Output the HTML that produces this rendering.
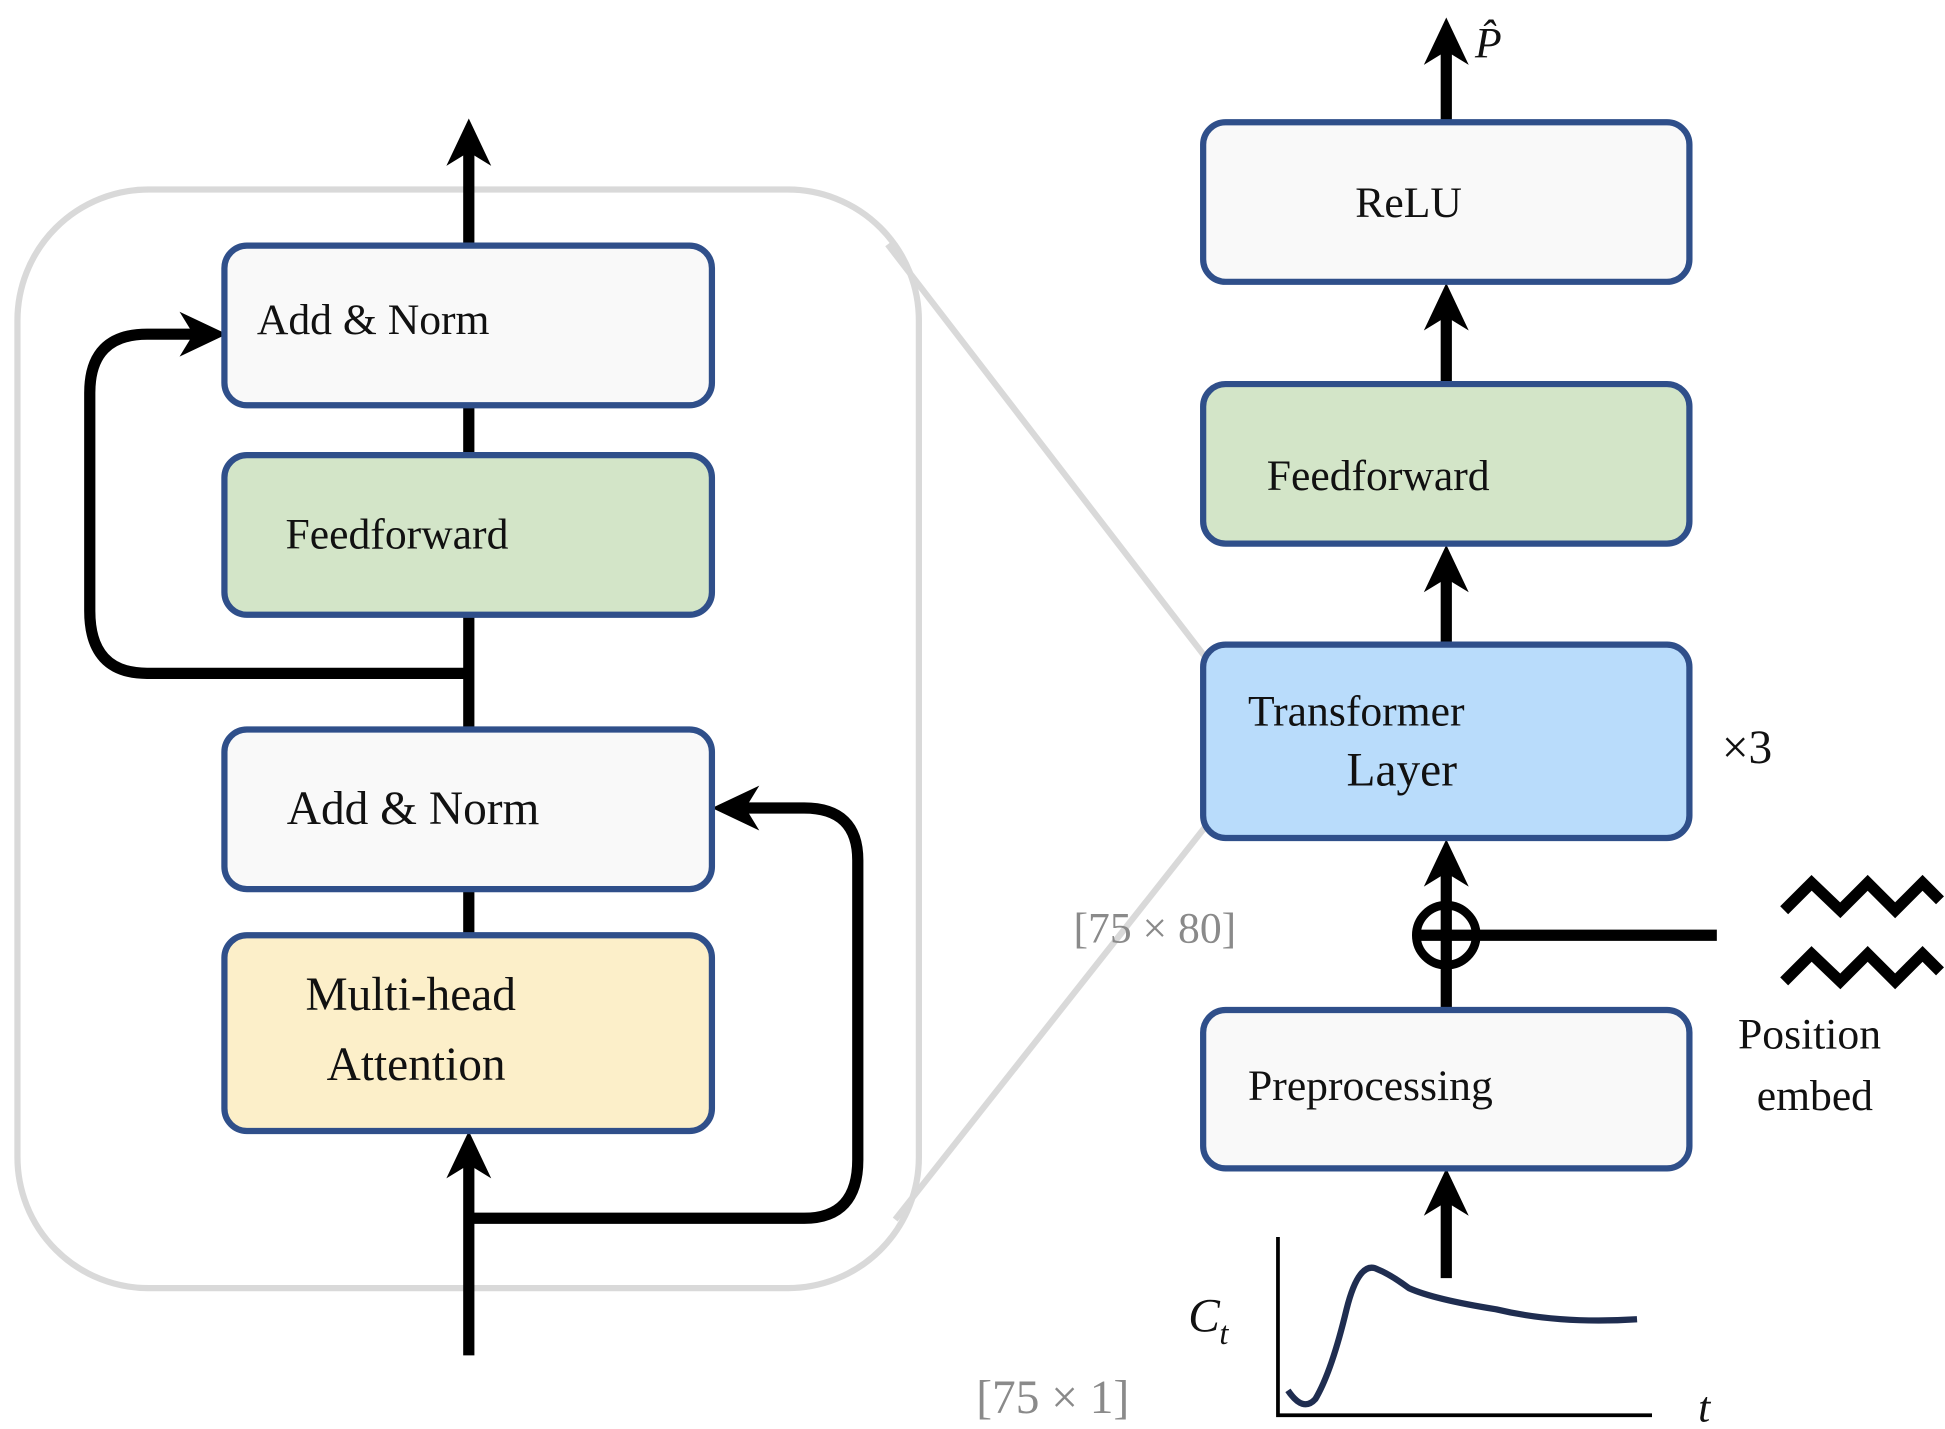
<!DOCTYPE html>
<html><head><meta charset="utf-8"><style>
html,body{margin:0;padding:0;background:#fff;}
svg{display:block;}
text{font-family:"Liberation Serif",serif;fill:#111;}
</style></head><body>
<svg width="1945" height="1429" viewBox="0 0 1560 1146" preserveAspectRatio="none" xmlns="http://www.w3.org/2000/svg">
<rect x="14" y="152" width="723" height="881" rx="105" fill="none" stroke="#d9d9d9" stroke-width="5"/>
<line x1="712" y1="196" x2="966" y2="526" stroke="#d9d9d9" stroke-width="5"/>
<line x1="718" y1="978" x2="966" y2="664" stroke="#d9d9d9" stroke-width="5"/>

<g stroke="#000" stroke-width="9" fill="none">
<line x1="376" y1="1087" x2="376" y2="920"/>
<line x1="376" y1="713" x2="376" y2="750"/>
<line x1="376" y1="493" x2="376" y2="585"/>
<line x1="376" y1="325" x2="376" y2="365"/>
<line x1="376" y1="197" x2="376" y2="108"/>
<path d="M376 540 H118 Q72 540 72 490 V315 Q72 268 118 268 H168"/>
<path d="M380 977 H645 Q688 977 688 930 V690 Q688 648 645 648 H585"/>
<line x1="1160" y1="1025" x2="1160" y2="952"/>
<line x1="1160" y1="808" x2="1160" y2="688"/>
<line x1="1160" y1="517" x2="1160" y2="452"/>
<line x1="1160" y1="308" x2="1160" y2="240"/>
<line x1="1160" y1="98" x2="1160" y2="28"/>
<line x1="1136" y1="750" x2="1377" y2="750"/>
<circle cx="1160" cy="750" r="24" stroke-width="7"/>
</g>
<g fill="#000">
<path d="M376 95 L394 133 L376 122 L358 133 Z"/>
<path d="M376 907 L394 945 L376 934 L358 945 Z"/>
<path d="M182 268 L144 286 L155 268 L144 250 Z"/>
<path d="M571 648 L609 630 L598 648 L609 666 Z"/>
<path d="M1160 937 L1178 975 L1160 964 L1142 975 Z"/>
<path d="M1160 673 L1178 711 L1160 700 L1142 711 Z"/>
<path d="M1160 437 L1178 475 L1160 464 L1142 475 Z"/>
<path d="M1160 227 L1178 265 L1160 254 L1142 265 Z"/>
<path d="M1160 14 L1178 52 L1160 41 L1142 52 Z"/>
</g>
<g stroke="#2f4f8a" stroke-width="5">
<rect x="180" y="197" width="391" height="128" rx="18" fill="#f9f9f9"/>
<rect x="180" y="365" width="391" height="128" rx="18" fill="#d3e5c8"/>
<rect x="180" y="585" width="391" height="128" rx="18" fill="#f9f9f9"/>
<rect x="180" y="750" width="391" height="157" rx="18" fill="#fcefc9"/>
<rect x="965" y="98" width="390" height="128" rx="18" fill="#f9f9f9"/>
<rect x="965" y="308" width="390" height="128" rx="18" fill="#d3e5c8"/>
<rect x="965" y="517" width="390" height="155" rx="18" fill="#b9dcfb"/>
<rect x="965" y="810" width="390" height="127" rx="18" fill="#f9f9f9"/>
</g>
<g font-size="35">
<text x="206" y="268">Add &amp; Norm</text>
<text x="229" y="440">Feedforward</text>
<text x="230" y="661" font-size="38">Add &amp; Norm</text>
<text x="245" y="810" font-size="38">Multi-head</text>
<text x="262" y="866" font-size="38">Attention</text>
<text x="1087" y="174">ReLU</text>
<text x="1016" y="393">Feedforward</text>
<text x="1001" y="582">Transformer</text>
<text x="1080" y="630" font-size="38">Layer</text>
<text x="1001" y="882">Preprocessing</text>
<text x="1381" y="612" font-size="38">×3</text>
<text x="1394" y="841">Position</text>
<text x="1409" y="890">embed</text>
<text x="861" y="756" style="fill:#8a8a8a">[75 × 80]</text>
<text x="783" y="1133" style="fill:#8a8a8a" font-size="38">[75 × 1]</text>
<text x="1183" y="46" font-style="italic">P̂</text>
<text x="953" y="1068" font-style="italic" font-size="38">C</text>
<text x="978" y="1078" font-style="italic" font-size="26">t</text>
<text x="1362" y="1140" font-style="italic">t</text>
</g>
<g stroke="#000" stroke-width="9" fill="none">
<polyline points="1431,730 1453,708 1476,730 1498,708 1520,730 1542,708 1556,722"/>
<polyline points="1431,787 1453,765 1476,787 1498,765 1520,787 1542,765 1556,779"/>
</g>
<g fill="none">
<path d="M1025 992 V1135 H1325" stroke="#000" stroke-width="3"/>
<path d="M1033 1115 Q1045 1133 1055 1122 Q1068 1100 1080 1050 Q1090 1010 1105 1018 Q1115 1022 1130 1033 Q1150 1042 1200 1050 Q1250 1062 1313 1058" stroke="#1f2d50" stroke-width="5"/>
</g>
</svg>
</body></html>
